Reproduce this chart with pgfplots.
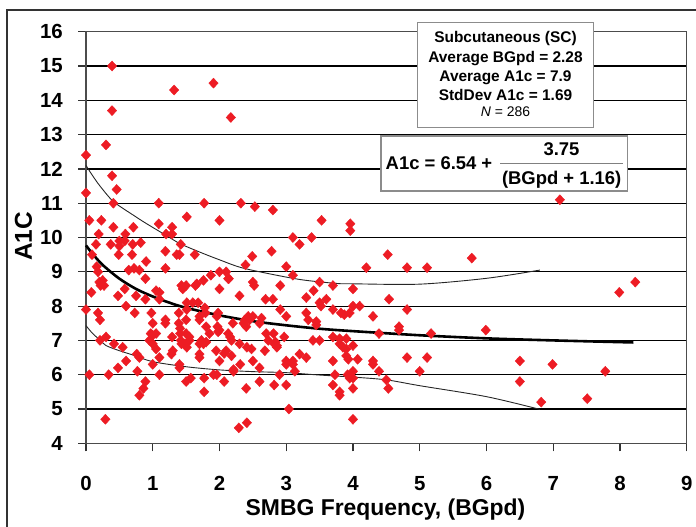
\documentclass[border=0pt]{standalone}
\usepackage{fontspec}
\setmainfont{Liberation Sans}
\usepackage{pgfplots}
\pgfplotsset{compat=1.18}
\definecolor{dotred}{RGB}{237,28,36}
\pgfplotstableread{
x y
0.39 15.0
0.39 13.7
0.30 12.7
0.00 12.4
0.00 11.3
0.39 11.8
0.46 11.4
0.41 11.0
1.32 14.3
1.91 14.5
2.17 13.5
0.05 10.5
0.23 10.5
0.19 10.1
0.15 9.8
0.41 10.3
0.37 9.8
0.50 9.75
0.50 9.9
0.59 10.1
0.58 9.9
0.71 10.3
0.70 9.8
0.82 9.85
1.09 11.0
1.09 10.4
1.20 10.1
1.29 10.3
1.29 10.1
1.51 10.6
1.77 11.0
2.00 10.5
2.32 11.0
2.53 10.9
2.80 10.8
3.10 10.0
3.20 9.8
3.38 10.0
3.53 10.5
3.96 10.4
3.96 10.2
4.52 9.5
5.78 9.4
7.10 11.1
0.09 9.5
0.49 9.5
0.69 9.5
1.19 9.6
1.36 9.5
1.42 9.8
1.40 9.5
1.63 9.5
2.49 9.45
2.78 9.6
0.16 9.15
0.18 9.0
0.90 9.3
0.64 9.05
0.72 9.1
0.80 9.05
1.19 9.1
2.39 9.2
2.00 9.0
2.10 9.0
2.14 8.8
1.87 8.9
3.00 9.15
3.10 8.9
4.20 9.12
4.81 9.12
5.11 9.12
0.89 8.8
0.20 8.7
0.08 8.4
0.22 8.6
0.25 8.75
0.27 8.6
0.48 8.3
0.60 8.0
0.58 8.5
0.75 8.3
0.89 8.2
1.05 8.45
1.10 8.4
1.10 8.2
1.45 8.5
1.50 8.6
1.43 8.6
1.66 8.65
1.76 8.75
1.51 8.1
1.60 8.1
1.68 8.1
1.64 8.6
2.00 8.5
2.13 8.8
2.50 8.7
2.30 8.3
2.52 8.6
2.69 8.2
2.80 8.2
2.91 8.6
3.30 8.25
3.41 8.45
3.50 8.7
3.50 8.1
3.60 8.2
3.70 8.6
3.52 8.0
4.00 8.5
4.54 8.2
4.00 8.0
4.10 8.0
7.99 8.4
8.23 8.7
0.00 7.9
0.18 7.8
0.21 7.6
0.21 7.0
0.30 7.1
0.73 7.8
0.98 7.8
1.00 7.5
0.95 7.0
1.00 7.15
1.05 7.2
0.97 7.2
1.00 6.9
1.19 7.6
1.19 7.5
1.29 7.1
1.41 7.35
1.41 7.2
1.42 7.0
1.39 7.8
1.39 7.5
1.51 7.9
1.50 7.6
1.50 7.2
1.55 7.1
1.55 7.0
1.70 7.7
1.70 7.6
1.73 7.0
1.78 7.95
1.79 7.8
1.80 7.4
1.80 6.95
1.85 7.2
1.98 7.8
1.96 7.7
1.97 7.4
2.00 7.3
1.98 7.25
2.13 7.2
2.16 7.1
2.18 7.0
2.20 7.5
2.36 7.5
2.40 7.4
2.43 7.7
2.38 7.6
2.45 7.6
2.50 7.7
2.60 7.5
2.63 7.65
2.70 7.2
2.73 7.0
2.81 7.2
2.91 7.9
2.97 7.1
3.00 7.7
3.30 7.8
3.33 7.6
3.45 7.55
3.45 7.45
3.40 7.0
3.50 7.0
3.70 7.9
3.70 7.1
3.80 7.05
3.90 7.05
3.82 7.8
3.87 7.75
3.95 7.8
4.30 7.7
4.81 7.9
4.69 7.4
4.69 7.3
4.39 7.2
5.17 7.2
5.99 7.3
0.05 6.0
0.34 6.0
0.42 6.9
0.48 6.2
0.60 6.4
0.55 6.8
0.76 6.6
0.80 6.5
0.77 6.1
1.00 6.3
1.10 6.5
1.10 6.0
1.05 6.75
1.30 6.7
1.28 6.6
1.40 6.3
1.40 6.2
1.43 6.9
1.51 6.8
1.48 6.9
1.70 6.6
1.70 6.5
1.70 6.9
1.76 6.9
1.91 6.0
1.96 6.0
1.95 6.7
2.00 6.4
2.10 6.7
2.07 6.62
2.18 6.55
2.21 6.15
2.21 6.1
2.30 6.9
2.31 6.3
2.41 6.8
2.48 6.75
2.50 6.4
2.60 6.2
2.68 6.7
2.84 6.95
2.86 6.85
2.86 6.8
2.90 6.0
2.82 6.9
3.00 6.4
3.00 6.3
3.10 6.4
3.10 6.3
3.13 6.1
3.20 6.6
3.30 6.5
3.70 6.4
3.73 6.0
3.85 6.8
3.80 6.9
3.90 6.75
3.90 6.55
3.93 6.45
3.92 6.0
3.95 5.9
4.00 5.9
4.00 6.1
4.00 6.85
4.07 6.45
4.30 6.4
4.30 6.3
4.39 6.1
4.81 6.5
5.11 6.5
5.00 6.1
6.50 6.4
6.99 6.3
7.78 6.1
0.29 4.7
0.80 5.4
0.86 5.6
0.89 5.8
1.50 5.8
1.57 5.9
1.77 5.9
1.77 5.5
2.07 5.8
2.60 5.8
2.82 5.7
3.00 5.7
2.40 5.6
3.04 5.0
2.29 4.45
2.41 4.6
3.70 5.7
3.80 5.4
4.00 5.6
4.00 4.7
3.80 5.5
4.50 5.85
4.53 5.6
6.50 5.8
6.82 5.2
7.51 5.3
}\scdata
\begin{document}
\begin{tikzpicture}
\draw[black!80, line width=1.3bp] (7bp,-10bp) rectangle (720bp,-560bp);
\begin{axis}[
  at={(86bp,-443.3bp)}, anchor=south west,
  scale only axis, width=600.7bp, height=411.6bp,
  xmin=0, xmax=9, ymin=4, ymax=16,
  xtick={0,1,...,9}, ytick={4,5,...,16},
  tick align=outside, xtick pos=bottom, ytick pos=left,
  major tick length=8bp,
  tick style={black!80, line width=1.2bp},
  axis line style={black!70, line width=1.3bp},
  ymajorgrids, grid style={black, line width=1.2bp},
  /pgf/number format/assume math mode=true,
  tick label style={font=\bfseries\fontsize{20.5}{20.5}\selectfont, inner sep=0pt},
  yticklabel style={xshift=-15bp},
  xticklabel style={yshift=-25bp},
  xlabel={SMBG Frequency, (BGpd)},
  xlabel style={font=\bfseries\fontsize{23}{23}\selectfont, anchor=base, at={(axis description cs:0.4986,-0.1764)}},
  ylabel={A1C},
  ylabel style={font=\bfseries\fontsize{24.5}{24.5}\selectfont, anchor=base, at={(axis description cs:-0.0899,0.5024)}},
  clip=false,
]
\addplot[only marks, mark=diamond*, mark size=5bp, color=dotred, mark options={fill=dotred, draw=dotred, xscale=1.25}] table[x=x,y=y] {\scdata};
\addplot[black, line width=2.6bp, smooth] coordinates {(0,9.77)(0.1,9.52)(0.25,9.20)(0.5,8.80)(0.75,8.50)(1,8.28)(1.25,8.10)(1.5,7.95)(2,7.73)(2.5,7.56)(3,7.44)(3.5,7.34)(4,7.27)(5,7.15)(6,7.06)(7,7.00)(8.2,6.94)};
\addplot[black!85, line width=0.9bp, smooth] coordinates {(0,12.1)(0.1,11.8)(0.21,11.5)(0.41,11.05)(0.71,10.65)(0.91,10.4)(1.21,10.05)(1.41,9.82)(1.71,9.57)(2.0,9.35)(2.33,9.12)(2.83,8.91)(3.26,8.76)(3.76,8.66)(4.0,8.65)(5.0,8.64)(6.0,8.81)(6.8,9.05)};
\addplot[black!85, line width=0.9bp, smooth] coordinates {(0,7.43)(0.1,7.2)(0.21,7.01)(0.3,6.85)(0.5,6.7)(0.71,6.57)(1.0,6.38)(1.51,6.23)(2.0,6.14)(2.5,6.09)(3.0,6.06)(3.5,5.99)(4.0,5.93)(4.5,5.85)(5.0,5.68)(6.0,5.36)(6.8,4.99)};
\end{axis}
\begin{scope}[x=1bp, y=-1bp]
\draw[black!45, line width=1.3bp, fill=white] (417.7,22.7) rectangle (593.3,127.3);
\node[anchor=base, inner sep=0pt, font=\bfseries\fontsize{15.5}{15.5}\selectfont] at (505.5,42.9) {Subcutaneous (SC)};
\node[anchor=base, inner sep=0pt, font=\bfseries\fontsize{15.5}{15.5}\selectfont] at (505.5,62.3) {Average BGpd = 2.28};
\node[anchor=base, inner sep=0pt, font=\bfseries\fontsize{15.5}{15.5}\selectfont] at (505.5,81.6) {Average A1c = 7.9};
\node[anchor=base, inner sep=0pt, font=\bfseries\fontsize{15.5}{15.5}\selectfont] at (505.5,100.6) {StdDev A1c = 1.69};
\node[anchor=base, inner sep=0pt, font=\fontsize{14}{14}\selectfont] at (505.5,116) {\textit{N} = 286};
\draw[black!45, line width=1.3bp, fill=white] (381,136) rectangle (627.7,191);
\node[anchor=base, inner sep=0pt, font=\bfseries\fontsize{18.5}{18.5}\selectfont] at (439,169.3) {A1c = 6.54 +};
\node[anchor=base, inner sep=0pt, font=\bfseries\fontsize{18.5}{18.5}\selectfont] at (561.5,155.9) {3.75};
\node[anchor=base, inner sep=0pt, font=\bfseries\fontsize{18.5}{18.5}\selectfont] at (561.7,184.9) {(BGpd + 1.16)};
\draw[black!50, line width=0.9bp] (500,163.3) -- (623,163.3);
\end{scope}
\pgfresetboundingbox
\path[use as bounding box] (0,0) rectangle (696bp,-527bp);
\end{tikzpicture}
\end{document}
